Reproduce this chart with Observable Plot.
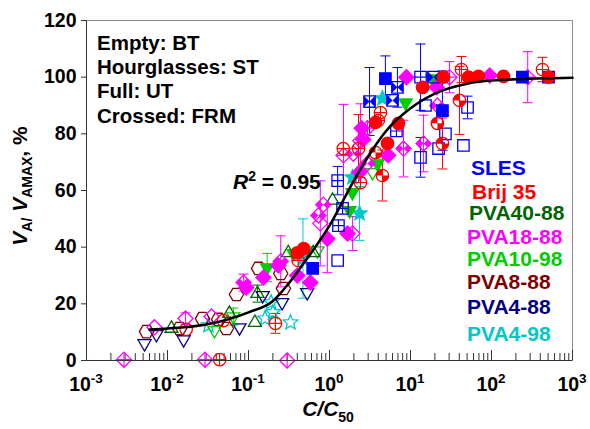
<!DOCTYPE html>
<html><head><meta charset="utf-8">
<script src="https://cdn.jsdelivr.net/npm/d3@7"></script>
<script src="https://cdn.jsdelivr.net/npm/@observablehq/plot@0.6"></script>
<style>
html,body{margin:0;padding:0;background:#fff;}
#chart svg{display:block;}
</style></head><body><div id="chart"></div>
<script>
// ---------------- DATA ----------------
// fill codes: o = empty (BT), h = hourglass (ST), f = full (UT), x = crossed (FRM)
const slesX   = [3.12, 4.9, 6.9, 6.0, 13.3, 6.7, 1.26, 1.45, 1.26, 0.62, 13.3, 24.8, 50.6, 27, 45, 22.2, 241, 506, 19.2, 15.3, 1.29];
const slesY   = [91.4, 99.5, 96.4, 91.8, 100, 81, 63.5, 53.7, 35.3, 32.5, 71.7, 88.2, 89.3, 80, 75.9, 74.8, 100, 100, 100, 90, 47.6];
const slesErr = [12, 8, 7, 0, 11.7, 0, 5, 0, 0, 0, 7, 14, 4, 0, 0, 0, 0, 0, 0, 0, 0];
const slesFill= ["h","f","h","h","x","x","x","x","o","f","o","f","o","o","o","o","f","f","h","o","x"];

const brijX   = [42.6, 52, 69, 141, 426, 506, 25.5, 40.3, 21.5, 24.8, 14.1, 4.26, 3.7, 7.1, 5.2, 2.28, 3.7, 4.5, 2.41, 0.41, 0.48, 0.215, 0.049, 0.017, 0.044, 1.48, 4.0, 0.4];
const brijY   = [102.7, 100, 100.3, 100.3, 102.7, 100, 100, 91.8, 83.7, 76.6, 96.4, 87.5, 84, 83.7, 76.6, 74.8, 73.4, 65.3, 62.8, 35.3, 39.5, 13.1, 14.1, 11, 0.3, 74.8, 84.7, 38];
const brijErr = [4.6, 0, 0, 0, 4.3, 0, 0, 12, 0, 9, 0, 0, 0, 0, 0, 12, 0, 9, 0, 0, 0, 3.5, 0, 0, 0, 0, 0, 0];
const brijFill= ["x","f","f","f","x","f","f","h","h","h","f","x","f","f","f","x","h","h","x","x","f","x","o","o","x","x","x","f"];

const pva4088X   = [0.0112, 0.129, 0.12, 1.09, 0.63, 0.058, 0.31];
const pva4088Y   = [11.3, 23.6, 13.4, 56.5, 38, 16.6, 38];
const pva4088Err = [0, 3, 0, 0, 0, 0, 0];
const pva4088Fill= ["o","o","o","o","o","o","o"];

const pva1888X   = [0.0029, 0.029, 0.30, 0.0069, 0.0167, 0.035, 0.087, 0.094, 0.234, 0.25, 0.94, 0.77, 0.58, 1.49, 1.67, 8.9, 8.2, 14.5, 30.3, 95, 280, 2.94, 2.41, 1.97, 0.73, 0.153, 0.4, 2.35, 5.3, 2.94, 2.6, 21.5, 21, 2.5, 1.93, 0.84];
const pva1888Y   = [0.3, 0.3, 0, 11.7, 14.8, 15.5, 27.5, 25.8, 33.5, 35, 43, 48.4, 27.5, 72.4, 44.8, 100, 74.8, 76.6, 100, 100.6, 100, 82, 77.6, 73, 51.2, 29.3, 30, 66.4, 72.4, 69.5, 78, 90, 96.4, 82, 44.8, 55];
const pva1888Err = [0, 0, 0, 0, 2, 0, 3, 0, 0, 9, 12, 15, 0, 18, 0, 0, 10, 10, 5.5, 0, 9, 0, 13, 0, 0, 0, 0, 0, 0, 0, 0, 0, 0, 0, 6, 0];
const pva1888Fill= ["x","x","x","o","o","o","h","f","f","h","f","o","f","x","f","f","h","h","x","f","x","x","o","h","h","f","f","f","f","h","f","h","f","f","o","h"];

const pva1098X   = [0.17, 18.7, 8.7, 3.92, 3.4, 1.92, 1.77, 0.038, 0.065, 0.36, 0.71];
const pva1098Y   = [32.8, 99.5, 91, 69.5, 66.4, 59.3, 53, 10.6, 15.5, 37.8, 38.8];
const pva1098Err = [5, 0, 0, 0, 0, 0, 0, 0, 3, 0, 0];
const pva1098Fill= ["f","f","f","f","o","f","f","o","o","f","o"];

const pva888X   = [0.0055, 0.0141, 0.027, 0.0427, 0.0535, 0.071, 0.133, 0.27, 0.25];
const pva888Y   = [10.2, 11.3, 14.8, 14.5, 11.3, 23.3, 32.5, 25.4, 30.7];
const pva888Err = [0, 0, 0, 0, 0, 0, 0, 0, 0];
const pva888Fill= ["o","o","o","o","o","o","o","o","o"];

const pva488X   = [0.0052, 0.0073, 0.0158, 0.0774, 0.53, 0.15, 0.26];
const pva488Y   = [6, 9.2, 7.4, 11.6, 24, 23, 20.5];
const pva488Err = [0, 0, 0, 0, 0, 0, 0];
const pva488Fill= ["o","o","o","o","o","o","o"];

const pva498X   = [0.032, 0.16, 0.33, 0.2, 2.35, 4.5, 1.92, 0.47, 0.19];
const pva498Y   = [12.4, 14.8, 13.4, 17, 51.9, 92.5, 64.6, 36, 20.5];
const pva498Err = [0, 0, 0, 0, 9.5, 0, 0, 14, 0];
const pva498Fill= ["o","o","o","o","f","f","f","f","o"];

// fitted curve
const fitX = [0.006, 0.01, 0.03, 0.1, 0.2, 0.3, 0.5, 1, 2, 3, 5, 10, 20, 50, 100, 1000];
const fitY = [10.9, 11.3, 12.7, 17, 21, 26.5, 35, 47.6, 63.5, 72, 81, 89, 94.2, 97.7, 98.8, 99.8];

const seriesNames  = ["SLES","Brij 35","PVA40-88","PVA18-88","PVA10-98","PVA8-88","PVA4-88","PVA4-98"];
const majorExponents = [-3,-2,-1,0,1,2,3];
const yTicks = [0,20,40,60,80,100,120];
const noteLines = ["Empty: BT","Hourglasses: ST","Full: UT","Crossed: FRM"];
const r2Value = "0.95";

// ---------------- STYLE ----------------
const FONT = "'Liberation Sans', Arial, Helvetica, sans-serif";
const colors = ["#0000ff","#ff0000","#006400","#ff00ff","#00cc00","#800000","#000080","#00c8c8"];
const shapeOf = ["square","circle","triUp","diamond","triDown","hexagon","triDown","star"];
const R = 6.2;

const rOf = s => Math.sqrt(s / Math.PI);
function poly(c, pts){ c.moveTo(pts[0][0], pts[0][1]); for (let i=1;i<pts.length;i++) c.lineTo(pts[i][0], pts[i][1]); c.closePath(); }
const shapes = {
  square: {
    body: {draw(c,size){const s=rOf(size)*0.92; poly(c,[[-s,-s],[s,-s],[s,s],[-s,s]]);}},
    hour: {draw(c,size){const s=rOf(size)*0.92; poly(c,[[-s,-s],[0,0],[-s,s]]); poly(c,[[s,-s],[0,0],[s,s]]);}},
    cross:{draw(c,size){const s=rOf(size)*0.92; c.moveTo(-s,0);c.lineTo(s,0);c.moveTo(0,-s);c.lineTo(0,s);}}
  },
  circle: {
    body: {draw(c,size){const r=rOf(size); c.moveTo(r,0); c.arc(0,0,r,0,2*Math.PI); c.closePath();}},
    hour: {draw(c,size){const r=rOf(size); c.moveTo(0,0); c.arc(0,0,r,Math.PI,1.5*Math.PI); c.closePath(); c.moveTo(0,0); c.arc(0,0,r,0,0.5*Math.PI); c.closePath();}},
    cross:{draw(c,size){const r=rOf(size); c.moveTo(-r,0);c.lineTo(r,0);c.moveTo(0,-r);c.lineTo(0,r);}}
  },
  diamond: {
    body: {draw(c,size){const d=rOf(size)*1.22; poly(c,[[0,-d],[d,0],[0,d],[-d,0]]);}},
    hour: {draw(c,size){const d=rOf(size)*1.22; poly(c,[[0,0],[-d/2,-d/2],[-d,0],[-d/2,d/2]]); poly(c,[[0,0],[d/2,-d/2],[d,0],[d/2,d/2]]);}},
    cross:{draw(c,size){const d=rOf(size)*1.22; c.moveTo(-d,0);c.lineTo(d,0);c.moveTo(0,-d);c.lineTo(0,d);}}
  },
  triUp: {
    body: {draw(c,size){const r=rOf(size)*1.22; poly(c,[[0,-r],[r*0.866,r*0.5],[-r*0.866,r*0.5]]);}}
  },
  triDown: {
    body: {draw(c,size){const r=rOf(size)*1.22; poly(c,[[0,r],[r*0.866,-r*0.5],[-r*0.866,-r*0.5]]);}}
  },
  hexagon: {
    body: {draw(c,size){const r=rOf(size)*1.15; const p=[]; for(let i=0;i<6;i++){const a=i*Math.PI/3; p.push([r*Math.cos(a), r*Math.sin(a)]);} poly(c,p);}}
  },
  star: {
    body: {draw(c,size){const Ro=rOf(size)*1.25, ri=Ro*0.45; const p=[]; for(let i=0;i<10;i++){const a=-Math.PI/2+i*Math.PI/5; const rr=i%2?ri:Ro; p.push([rr*Math.cos(a), rr*Math.sin(a)]);} poly(c,p);}}
  }
};
const capSym = {draw(c){c.moveTo(-5,0); c.lineTo(5,0);}};

const seriesArrays = [
  [slesX, slesY, slesErr, slesFill],
  [brijX, brijY, brijErr, brijFill],
  [pva4088X, pva4088Y, pva4088Err, pva4088Fill],
  [pva1888X, pva1888Y, pva1888Err, pva1888Fill],
  [pva1098X, pva1098Y, pva1098Err, pva1098Fill],
  [pva888X, pva888Y, pva888Err, pva888Fill],
  [pva488X, pva488Y, pva488Err, pva488Fill],
  [pva498X, pva498Y, pva498Err, pva498Fill]
];
const series = seriesArrays.map(([xs, ys, es, fs], i) => xs.map((x, j) => ({x, y: ys[j], err: es[j], fill: fs[j], s: i})));
const fit = fitX.map((x, i) => ({x, y: fitY[i]}));

const drawOrder = [7,6,5,4,2,3,0,1];
const errMarks = [], ptMarks = [];
for (const i of drawOrder) {
  const data = series[i], col = colors[i], shp = shapes[shapeOf[i]];
  const eb = data.filter(d => d.err > 0);
  errMarks.push(
    Plot.ruleX(eb, {x: "x", y1: d => d.y - d.err, y2: d => d.y + d.err, stroke: col, strokeWidth: 1}),
    Plot.dot(eb, {x: "x", y: d => d.y - d.err, symbol: capSym, stroke: col, fill: "none", strokeWidth: 1}),
    Plot.dot(eb, {x: "x", y: d => d.y + d.err, symbol: capSym, stroke: col, fill: "none", strokeWidth: 1})
  );
  ptMarks.push(
    Plot.dot(data.filter(d => d.fill !== "f"), {x: "x", y: "y", r: R, symbol: shp.body, stroke: col, fill: "none", strokeWidth: 1.3}),
    Plot.dot(data.filter(d => d.fill === "f"), {x: "x", y: "y", r: R, symbol: shp.body, stroke: col, fill: col, strokeWidth: 1.3})
  );
  if (shp.hour) ptMarks.push(Plot.dot(data.filter(d => d.fill === "h"), {x: "x", y: "y", r: R, symbol: shp.hour, fill: col, stroke: "none"}));
  if (shp.cross) ptMarks.push(Plot.dot(data.filter(d => d.fill === "x"), {x: "x", y: "y", r: R, symbol: shp.cross, stroke: col, fill: "none", strokeWidth: 1.1}));
}

const majors = majorExponents.map(k => 10 ** k);
const minors = [];
for (const k of majorExponents.slice(0, -1)) for (let m = 2; m <= 9; m++) minors.push(m * 10 ** k);

const chart = Plot.plot({
  width: 590, height: 429,
  marginLeft: 86, marginRight: 18, marginTop: 20, marginBottom: 69,
  style: {fontFamily: FONT, fontSize: "19.5px", fontWeight: "bold", background: "white", color: "black"},
  x: {type: "log", domain: [1e-3, 1e3]},
  y: {domain: [0, 120]},
  marks: [
    Plot.frame({stroke: "#8c8c8c"}),
    Plot.axisY({ticks: yTicks, tickSize: 5, tickPadding: 5, label: null, tickFormat: d => String(d), stroke: "#333"}),
    Plot.axisX({ticks: minors, tickSize: -7, tickFormat: () => "", label: null, stroke: "#333"}),
    Plot.axisX({ticks: majors, tickSize: -10, tickFormat: () => "", label: null, stroke: "#333"}),
    ...errMarks,
    ...ptMarks,
    Plot.line(fit, {x: "x", y: "y", curve: "monotone-x", stroke: "black", strokeWidth: 2.6}),
    Plot.ruleY([0], {stroke: "#333"}),
    Plot.ruleX([1e-3], {stroke: "#333"})
  ]
});
document.getElementById("chart").appendChild(chart);

// ---------- text overlays ----------
const svg = d3.select(chart);
const xs = chart.scale("x");
const g = svg.append("g").attr("font-family", FONT).attr("font-weight", "bold").attr("fill", "black").attr("text-anchor", "start");

// x tick labels 10^k
for (const k of majorExponents) {
  const t = g.append("text").attr("x", xs.apply(10 ** k)).attr("y", 391).attr("text-anchor", "middle").attr("font-size", 19.5);
  t.append("tspan").text("10");
  t.append("tspan").attr("font-size", 13.5).attr("dy", -8).text(String(k));
}
// x label
{
  const t = g.append("text").attr("x", 328).attr("y", 416).attr("text-anchor", "middle").attr("font-size", 21);
  t.append("tspan").attr("font-style", "italic").text("C/C");
  t.append("tspan").attr("font-size", 14).attr("dy", 6).text("50");
}
// y label
{
  const t = g.append("text").attr("transform", "translate(27,186) rotate(-90)").attr("text-anchor", "middle").attr("font-size", 21);
  t.append("tspan").attr("font-style", "italic").text("V");
  t.append("tspan").attr("font-size", 14).attr("dy", 5).text("A/");
  t.append("tspan").attr("dy", -5).text(" ");
  t.append("tspan").attr("font-style", "italic").text("V");
  t.append("tspan").attr("font-size", 14).attr("dy", 5).text("AMAX");
  t.append("tspan").attr("dy", -5).text(", %");
}
// notes
noteLines.forEach((s, i) => {
  g.append("text").attr("x", 97).attr("y", 50 + i * 24.2).attr("text-anchor", "start").attr("font-size", 20.5).text(s);
});
// R^2
{
  const t = g.append("text").attr("x", 233).attr("y", 189).attr("text-anchor", "start").attr("font-size", 21);
  t.append("tspan").attr("font-style", "italic").text("R");
  t.append("tspan").attr("font-size", 14).attr("dy", -8).text("2");
  t.append("tspan").attr("dy", 8).text(" = " + r2Value);
}
// legend
const legendY = [175, 199, 220, 244, 266, 289, 314, 341];
const legendX = [471, 472, 469, 467, 467, 467, 467, 467];
seriesNames.forEach((s, i) => {
  g.append("text").attr("x", legendX[i]).attr("y", legendY[i]).attr("text-anchor", "start").attr("font-size", 21).attr("fill", colors[i]).text(s);
});
</script>
</body></html>
